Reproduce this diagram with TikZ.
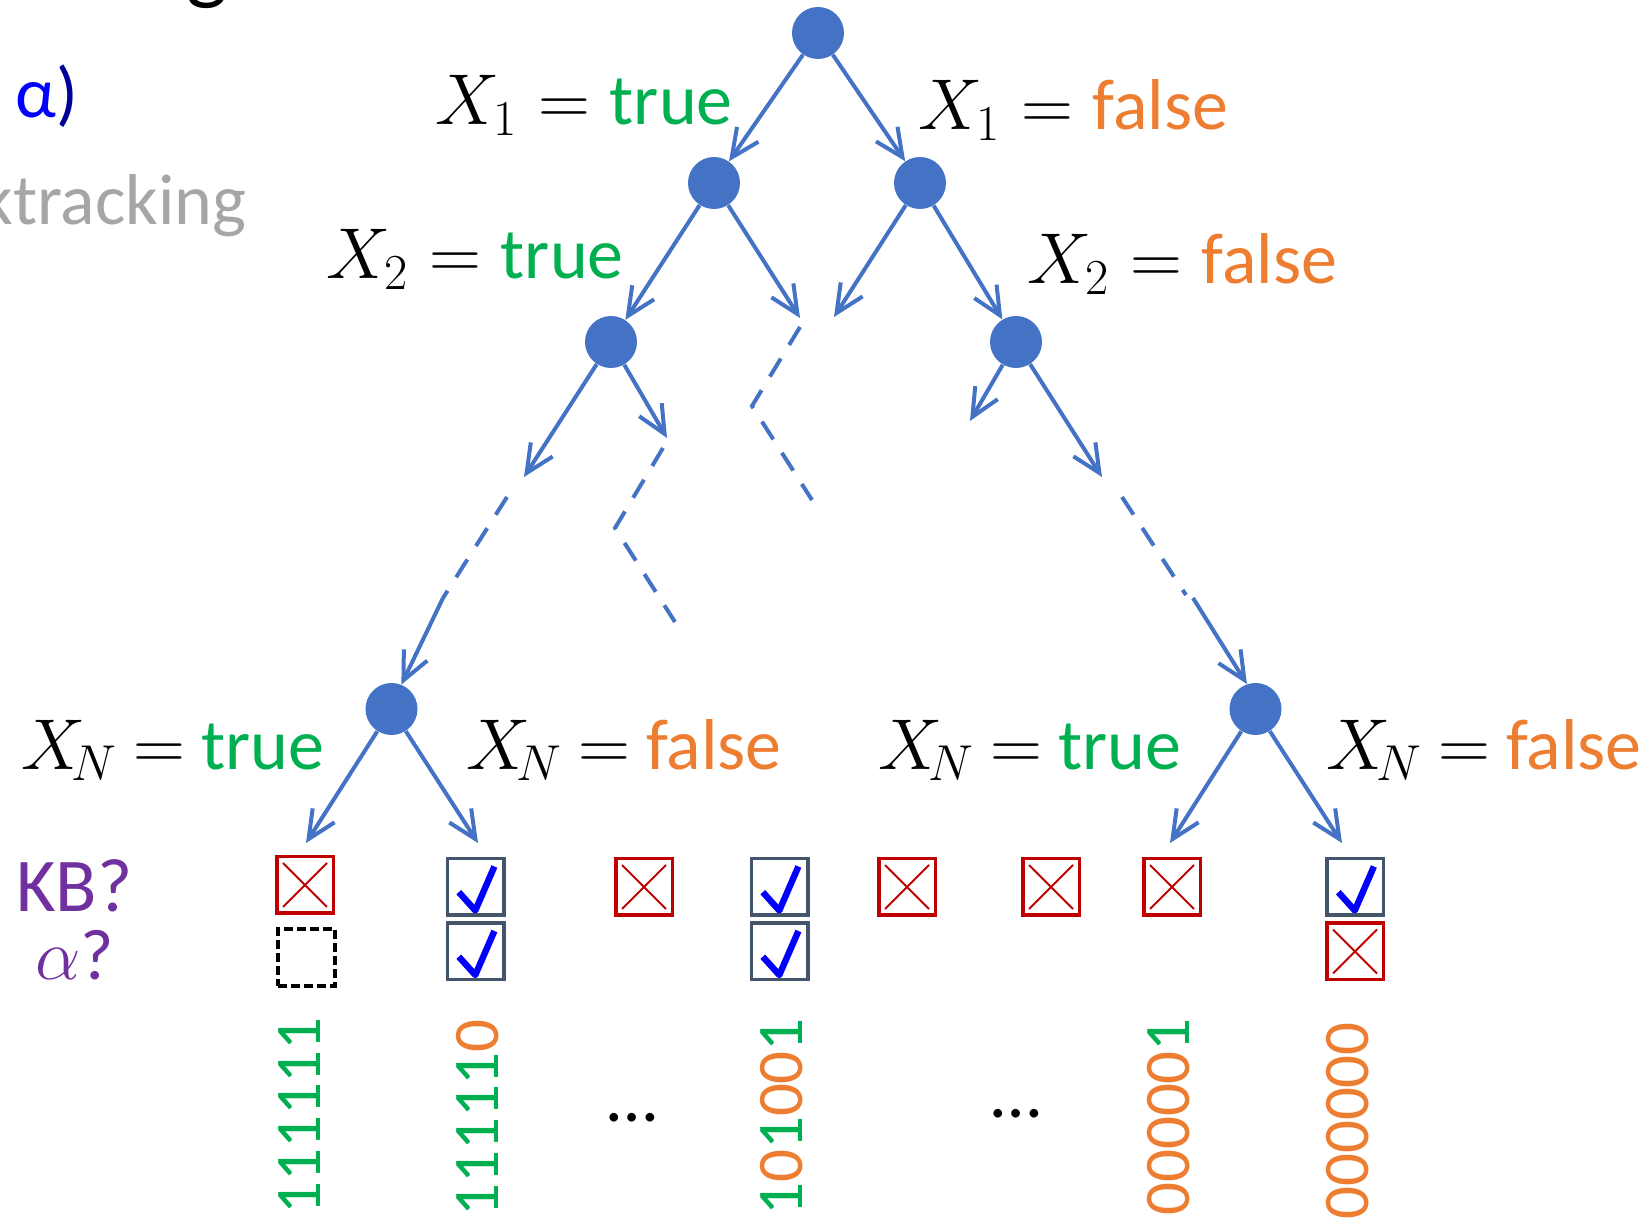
\RequirePackage{fix-cm}
\documentclass[tikz,border=0pt]{standalone}
\usepackage{fontspec}
\setmainfont{Carlito}
\usetikzlibrary{arrows.meta}
\definecolor{tblue}{HTML}{4472C4}
\definecolor{cgreen}{HTML}{00B050}
\definecolor{corange}{HTML}{ED7D31}
\definecolor{cpurple}{HTML}{7030A0}
\definecolor{cred}{HTML}{C00000}
\definecolor{cslate}{HTML}{44546A}
\definecolor{cblue}{HTML}{0000FF}
\definecolor{cnavy}{HTML}{000096}
\definecolor{cgray}{HTML}{A6A6A6}
\newcommand{\XNeq}{$X_{\mkern-3mu N}\mskip4mu{=}\mskip4mu$}
\begin{document}
\begin{tikzpicture}[x=0.5pt,y=-0.5pt,
  dot/.style={circle, fill=tblue, minimum size=26pt, inner sep=0pt},
  tree/.style={draw=tblue, line width=2pt},
  arr/.style={tree, -{Straight Barb[length=14pt, width=13pt]}},
  dsh/.style={tree, dash pattern=on 10.5pt off 8pt},
  big/.style={font=\fontsize{36}{43}\selectfont, inner sep=0pt},
  lab/.style={big, anchor=base west},
  bits/.style={rotate=90, font=\fontsize{32.5}{38}\selectfont, inner sep=0pt},
  xbox/.style={rectangle, draw=cred, line width=1.75pt, minimum size=28.25pt, inner sep=0pt,
    path picture={\draw[cred, line width=1pt]
      ([shift={(-22,-22)}]path picture bounding box.center) -- ([shift={(22,22)}]path picture bounding box.center)
      ([shift={(-22,22)}]path picture bounding box.center) -- ([shift={(22,-22)}]path picture bounding box.center);}},
  chk/.style={rectangle, draw=cslate, line width=1.75pt, minimum size=28.25pt, inner sep=0pt,
    path picture={\draw[cblue, line width=3.2pt, line join=round]
      ([shift={(-16.7,5.2)}]path picture bounding box.center) -- ([shift={(-0.2,23.5)}]path picture bounding box.center)
      -- ([shift={(18.9,-20.5)}]path picture bounding box.center);}},
  dbox/.style={rectangle, draw=black, line width=1.6pt, dash pattern=on 4.5pt off 2pt, minimum size=28.5pt, inner sep=0pt}
]
\path[use as bounding box] (0,0) rectangle (1651,1218);
\clip (0,0) rectangle (1651,1218);

% fragments of surrounding slide text
\node[anchor=base west, font=\fontsize{44}{50}\selectfont, inner sep=0pt] (gtitle) at (186,-6) {g};
\node[lab] (alp) at (15,118) {\textcolor{cblue}{α}\textcolor{cnavy}{)}};
\node[big, anchor=base east, text=cgray] (bt) at (247,225) {ktracking};

% tree nodes
\node[dot] (root) at (818,33) {};
\node[dot] (l1l) at (714,183) {};
\node[dot] (l1r) at (920,183) {};
\node[dot] (l2l) at (611,342) {};
\node[dot] (l2r) at (1016,342) {};
\node[dot] (lnl) at (391.5,709) {};
\node[dot] (lnr) at (1255.5,709) {};

% free ends
\coordinate (c1) at (800,318);
\coordinate (c2) at (834,317);
\coordinate (c3) at (524,477);
\coordinate (c4) at (667,438);
\coordinate (c5) at (970,421);
\coordinate (c6) at (1102,477);
\coordinate (c7) at (306,843);
\coordinate (c8) at (478,843);
\coordinate (c9) at (1170,843);
\coordinate (c10) at (1342,843);
\coordinate (d1a) at (507,497);
\coordinate (d1b) at (443,598);
\coordinate (d2a) at (1122,497);
\coordinate (d2b) at (1186,595);
\coordinate (d2c) at (1193,598);
\coordinate (z1a) at (800,327);
\coordinate (z1b) at (752,406);
\coordinate (z1c) at (812,500);
\coordinate (z2a) at (663,448);
\coordinate (z2b) at (615,528);
\coordinate (z2c) at (675,622);

% edges
\draw[arr] (root) -- (l1l);
\draw[arr] (root) -- (l1r);
\draw[arr] (l1l) -- (l2l);
\draw[arr] (l1l) -- (c1);
\draw[arr] (l1r) -- (c2);
\draw[arr] (l1r) -- (l2r);
\draw[arr] (l2l) -- (c3);
\draw[arr] (l2l) -- (c4);
\draw[arr] (l2r) -- (c5);
\draw[arr] (l2r) -- (c6);
\draw[dsh] (d1a) -- (d1b);
\draw[arr] (d1b) -- (lnl.68);
\draw[dsh] (d2a) -- (d2b);
\draw[arr] (d2c) -- (lnr.109);
\draw[dsh] (z1a) -- (z1b) -- (z1c);
\draw[dsh] (z2a) -- (z2b) -- (z2c);
\draw[arr] (lnl) -- (c7);
\draw[arr] (lnl) -- (c8);
\draw[arr] (lnr) -- (c9);
\draw[arr] (lnr) -- (c10);

% edge labels
\node[lab] (t1) at (435,125) {$X_1={}$\textcolor{cgreen}{true}};
\node[lab] (f1) at (918,130) {$X_1={}$\textcolor{corange}{false}};
\node[lab] (t2) at (326,279) {$X_2={}$\textcolor{cgreen}{true}};
\node[lab] (f2) at (1027,284) {$X_2={}$\textcolor{corange}{false}};
\node[lab] (tn1) at (21,770) {\XNeq\textcolor{cgreen}{true}};
\node[lab] (fn1) at (466,770) {\XNeq\textcolor{corange}{false}};
\node[lab] (tn2) at (878,770) {\XNeq\textcolor{cgreen}{true}};
\node[lab] (fn2) at (1326,770) {\XNeq\textcolor{corange}{false}};

% row labels
\node[big, anchor=base west, font=\fontsize{38}{45}\selectfont, text=cpurple] (kb) at (16,912) {KB?};
\node[lab, text=cpurple] (aq) at (35,980) {$\alpha$?};

% result boxes
\node[xbox] (b1) at (305,885) {};
\node[dbox] (b1a) at (306.5,957.5) {};
\node[chk] (b2) at (475.5,887) {};
\node[chk] (b2a) at (475.5,951.5) {};
\node[xbox] (b3) at (644,887) {};
\node[chk] (b4) at (779.5,887) {};
\node[chk] (b4a) at (779.5,951.5) {};
\node[xbox] (b5) at (907,887) {};
\node[xbox] (b6) at (1051,887) {};
\node[xbox] (b7) at (1172,887) {};
\node[chk] (b8) at (1355,887) {};
\node[xbox] (b8a) at (1355,951.5) {};

% assignments
\node[bits] (s1) at (300,1116) {\textcolor{cgreen}{111111}};
\node[bits] (s2) at (478,1118) {\textcolor{cgreen}{11111}\textcolor{corange}{0}};
\node[big, anchor=base] (e1) at (632,1122) {…};
\node[bits] (s3) at (781.5,1117) {\textcolor{cgreen}{1}\textcolor{corange}{0}\textcolor{cgreen}{1}\textcolor{corange}{00}\textcolor{cgreen}{1}};
\node[big, anchor=base] (e2) at (1016,1118) {…};
\node[bits] (s4) at (1168.5,1117) {\textcolor{corange}{00000}\textcolor{cgreen}{1}};
\node[bits] (s5) at (1347.5,1121) {\textcolor{corange}{000000}};
\end{tikzpicture}
\end{document}
